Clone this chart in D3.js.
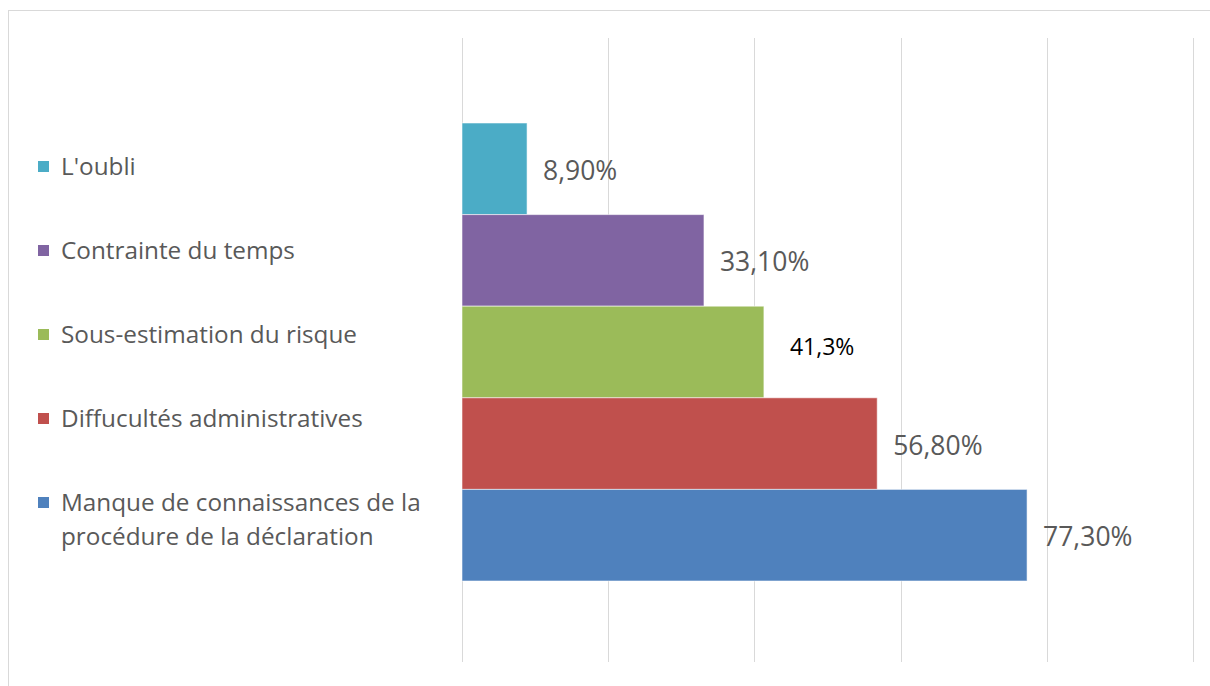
<!DOCTYPE html>
<html>
<head>
<meta charset="utf-8">
<script src="https://cdn.jsdelivr.net/npm/d3@7"></script>
<style>
  html, body { margin: 0; padding: 0; background: #fff; }
  svg { display: block; }
</style>
</head>
<body>
<svg id="chart" width="1210" height="686"></svg>
<script>
// Raisons de non-déclaration (pourcentages)
const categories = [
  "L'oubli",
  "Contrainte du temps",
  "Sous-estimation du risque",
  "Diffucultés administratives",
  "Manque de connaissances de la procédure de la déclaration"
];
const values = [8.9, 33.1, 41.3, 56.8, 77.3];
const valueLabels = ["8,90%", "33,10%", "41,3%", "56,80%", "77,30%"];
const legendLines = [
  ["L'oubli"],
  ["Contrainte du temps"],
  ["Sous-estimation du risque"],
  ["Diffucultés administratives"],
  ["Manque de connaissances de la", "procédure de la déclaration"]
];
const colors = ["#4BACC6", "#8064A2", "#9BBB59", "#C0504D", "#4F81BD"];
const xTicks = [0, 20, 40, 60, 80, 100];

const svg = d3.select("#chart");
const font = "'Open Sans', 'Noto Sans', sans-serif";

// chart frame
svg.append("rect")
  .attr("x", 8.5).attr("y", 10.5)
  .attr("width", 1210).attr("height", 700)
  .attr("fill", "#fff")
  .attr("stroke", "#d9d9d9").attr("stroke-width", 1);

const plot = { left: 462, right: 1193, top: 38, bottom: 662 };

const x = d3.scaleLinear().domain([0, 100]).range([plot.left, plot.right]);
const y = d3.scaleBand().domain(categories).range([123, 581]).padding(0);

// vertical gridlines
svg.append("g")
  .selectAll("line")
  .data(xTicks)
  .join("line")
  .attr("x1", d => Math.round(x(d)) + 0.5)
  .attr("x2", d => Math.round(x(d)) + 0.5)
  .attr("y1", plot.top)
  .attr("y2", plot.bottom)
  .attr("stroke", "#d9d9d9")
  .attr("stroke-width", 1);

// bars
svg.append("g")
  .selectAll("rect")
  .data(categories)
  .join("rect")
  .attr("x", x(0))
  .attr("y", d => y(d))
  .attr("width", (d, i) => x(values[i]) - x(0))
  .attr("height", y.bandwidth())
  .attr("fill", (d, i) => colors[i])
  .attr("stroke", "rgba(255,255,255,0.55)")
  .attr("stroke-width", 1);

// value labels; the "41,3%" label was hand-edited (black, smaller, shifted)
const edited = i => i === 2;
svg.append("g")
  .selectAll("text")
  .data(categories)
  .join("text")
  .attr("x", (d, i) => x(values[i]) + (edited(i) ? 26 : 16))
  .attr("y", (d, i) => y(d) + y.bandwidth() / 2 + (edited(i) ? 3 : 11))
  .attr("font-family", font)
  .attr("font-size", (d, i) => edited(i) ? 23 : 26.5)
  .attr("fill", (d, i) => edited(i) ? "#000" : "#595959")
  .text((d, i) => valueLabels[i]);

// legend
const legend = svg.append("g");
const legendTop = 167, legendStep = 84;
categories.forEach((c, i) => {
  const cy = legendTop + i * legendStep;
  legend.append("rect")
    .attr("x", 38).attr("y", cy - 6)
    .attr("width", 11).attr("height", 11)
    .attr("fill", colors[i]);
  const t = legend.append("text")
    .attr("font-family", font)
    .attr("font-size", 24.3)
    .attr("fill", "#595959");
  legendLines[i].forEach((line, j) => {
    t.append("tspan")
      .attr("x", 61)
      .attr("y", cy + 8 + j * 34)
      .text(line);
  });
});
</script>
</body>
</html>
